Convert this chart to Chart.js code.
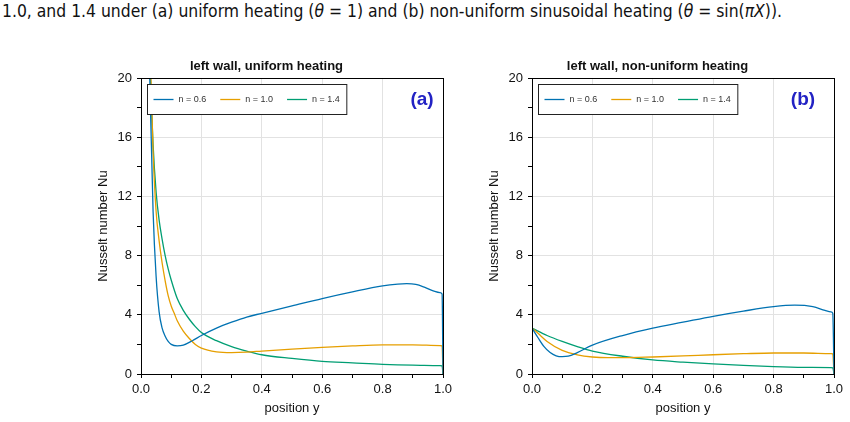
<!DOCTYPE html>
<html>
<head>
<meta charset="utf-8">
<script src="https://cdn.jsdelivr.net/npm/chart.js@4.4.1/dist/chart.umd.min.js"></script>
<style>
  body { margin: 0; background: #fff; width: 850px; height: 422px; overflow: hidden; position: relative; }
  #caption { position: absolute; left: 2px; top: 1px; font-family: "DejaVu Sans Condensed", "Liberation Sans Narrow", "Liberation Sans", sans-serif; font-size: 17px; color: #111; white-space: nowrap; transform-origin: 0 0; }
  .box { position: absolute; top: 55px; width: 370px; height: 365px; }
</style>
</head>
<body>
<div id="caption">1.0, and 1.4 under (a) uniform heating (<i>θ</i> = 1) and (b) non-uniform sinusoidal heating (<i>θ</i> = sin(<i>πX</i>)).</div>
<div class="box" style="left:90px"><canvas id="chartA"></canvas></div>
<div class="box" style="left:481px"><canvas id="chartB"></canvas></div>
<script>
// ---- datos ----
const seriesLabels = ['n = 0.6', 'n = 1.0', 'n = 1.4'];
const seriesColors = ['#0072B2', '#E69F00', '#009E73'];

// (a) calentamiento uniforme
const posA06 = [0.02, 0.03, 0.04, 0.05, 0.06, 0.07, 0.08, 0.09, 0.10, 0.12, 0.14, 0.17, 0.20, 0.25, 0.30, 0.35, 0.40, 0.50, 0.60, 0.70, 0.80, 0.85, 0.88, 0.91, 0.94, 0.97, 0.99, 0.997, 1.0];
const nuA06  = [30, 19, 11, 6.6, 4.2, 3.1, 2.55, 2.2, 2.0, 1.9, 1.95, 2.25, 2.6, 3.1, 3.5, 3.85, 4.1, 4.6, 5.1, 5.55, 5.95, 6.07, 6.1, 6.05, 5.85, 5.6, 5.5, 5.4, 0];
const posA10 = [0.02, 0.03, 0.04, 0.05, 0.06, 0.07, 0.08, 0.09, 0.10, 0.11, 0.12, 0.14, 0.16, 0.18, 0.20, 0.25, 0.30, 0.35, 0.40, 0.50, 0.60, 0.70, 0.80, 0.90, 0.99, 0.997, 1.0];
const nuA10  = [32, 22, 15, 11, 9, 7.5, 6.3, 5.3, 4.6, 4.1, 3.6, 2.9, 2.4, 2.0, 1.75, 1.5, 1.45, 1.48, 1.55, 1.68, 1.8, 1.9, 1.97, 1.97, 1.92, 1.9, 0];
const posA14 = [0.02, 0.03, 0.04, 0.05, 0.06, 0.07, 0.08, 0.09, 0.10, 0.12, 0.14, 0.16, 0.18, 0.20, 0.25, 0.30, 0.35, 0.40, 0.50, 0.60, 0.70, 0.80, 0.90, 0.99, 0.997, 1.0];
const nuA14  = [30, 21, 15.5, 12.3, 10.4, 9.1, 8.0, 7.1, 6.35, 5.1, 4.3, 3.7, 3.2, 2.8, 2.25, 1.85, 1.55, 1.3, 1.05, 0.85, 0.75, 0.65, 0.6, 0.57, 0.55, 0];

// (b) calentamiento sinusoidal
const posB06 = [0.0, 0.02, 0.04, 0.06, 0.08, 0.10, 0.12, 0.15, 0.20, 0.30, 0.40, 0.50, 0.60, 0.70, 0.80, 0.87, 0.93, 0.97, 0.99, 0.996, 1.0];
const nuB06  = [3.1, 2.45, 1.85, 1.45, 1.23, 1.17, 1.2, 1.45, 1.95, 2.6, 3.1, 3.5, 3.9, 4.25, 4.55, 4.65, 4.55, 4.3, 4.2, 4.1, 0];
const posB10 = [0.0, 0.02, 0.05, 0.10, 0.15, 0.20, 0.25, 0.30, 0.40, 0.50, 0.60, 0.70, 0.80, 0.90, 0.99, 0.996, 1.0];
const nuB10  = [3.1, 2.75, 2.2, 1.6, 1.3, 1.15, 1.1, 1.1, 1.15, 1.22, 1.3, 1.37, 1.42, 1.42, 1.38, 1.36, 0];
const posB14 = [0.0, 0.05, 0.10, 0.15, 0.20, 0.30, 0.40, 0.50, 0.60, 0.70, 0.80, 0.90, 0.99, 0.996, 1.0];
const nuB14  = [3.1, 2.6, 2.2, 1.85, 1.55, 1.2, 0.95, 0.8, 0.68, 0.58, 0.5, 0.45, 0.43, 0.42, 0];

// ticks
const yTickLabels = [0, 4, 8, 12, 16, 20];
const xTickLabels = [0.0, 0.2, 0.4, 0.6, 0.8, 1.0];

const FONT = '"Liberation Sans", Arial, sans-serif';

function toPoints(xs, ys) {
    return xs.map((x, i) => ({ x: x, y: ys[i] }));
}

// marco, leyenda dentro del area y etiqueta (a)/(b)
const framePlugin = {
    id: 'frame',
    afterDraw(chart, args, opts) {
        const ctx = chart.ctx;
        const a = chart.chartArea;
        ctx.save();
        ctx.strokeStyle = '#000';
        ctx.lineWidth = 1;
        ctx.strokeRect(Math.round(a.left) + 0.5, Math.round(a.top) + 0.5, Math.round(a.right - a.left), Math.round(a.bottom - a.top));

        // leyenda
        ctx.font = '9px ' + FONT;
        const bx = a.left + 6.5, by = a.top + 6.5;
        let x = bx + 6;
        const entries = [];
        chart.data.datasets.forEach(ds => {
            const w = ctx.measureText(ds.label).width;
            entries.push({ x: x, ds: ds });
            x += 20 + 5 + w + 14;
        });
        const bw = x - 14 + 7 - bx;
        const bh = 30;
        ctx.fillStyle = '#fff';
        ctx.fillRect(bx, by, bw, bh);
        ctx.strokeStyle = '#222';
        ctx.lineWidth = 1;
        ctx.strokeRect(bx, by, bw, bh);
        const cy = by + bh / 2;
        entries.forEach(e => {
            ctx.strokeStyle = e.ds.borderColor;
            ctx.lineWidth = 1.3;
            ctx.beginPath();
            ctx.moveTo(e.x, cy);
            ctx.lineTo(e.x + 20, cy);
            ctx.stroke();
            ctx.fillStyle = '#333';
            ctx.textBaseline = 'middle';
            ctx.textAlign = 'left';
            ctx.fillText(e.ds.label, e.x + 25, cy);
        });

        // etiqueta del panel
        ctx.font = 'bold 19px ' + FONT;
        ctx.fillStyle = '#2222c4';
        ctx.textAlign = 'center';
        ctx.textBaseline = 'middle';
        ctx.fillText(opts.tag, opts.tagX, a.top + 22);
        ctx.restore();
    }
};

function makeChart(canvasId, title, xsList, ysList, tag, tagX) {
    const datasets = seriesLabels.map((lab, i) => ({
        label: lab,
        data: toPoints(xsList[i], ysList[i]),
        borderColor: seriesColors[i],
        backgroundColor: seriesColors[i],
        borderWidth: 1.3,
        pointRadius: 0,
        cubicInterpolationMode: 'monotone',
        fill: false
    }));

    return new Chart(document.getElementById(canvasId).getContext('2d'), {
        type: 'line',
        data: { datasets: datasets },
        options: {
            responsive: true,
            maintainAspectRatio: false,
            animation: false,
            layout: { padding: { left: 0, right: 17, top: 0, bottom: 0 } },
            plugins: {
                legend: { display: false },
                tooltip: { enabled: false },
                title: {
                    display: true,
                    text: title,
                    color: '#111',
                    font: { family: FONT, size: 13, weight: 'bold' },
                    padding: { top: 4, bottom: 3.4 }
                },
                frame: { tag: tag, tagX: tagX }
            },
            scales: {
                x: {
                    type: 'linear',
                    min: 0, max: 1,
                    afterFit: s => { s.height = 46; },
                    afterBuildTicks: s => {
                        s.ticks = [];
                        for (let k = 0; k <= 10; k++) s.ticks.push({ value: k / 10 });
                    },
                    ticks: {
                        autoSkip: false,
                        maxRotation: 0,
                        padding: 4,
                        color: '#111',
                        font: { family: FONT, size: 13 },
                        callback: v => {
                            const k = Math.round(v * 10);
                            return xTickLabels.some(t => Math.round(t * 10) === k) ? (k / 10).toFixed(1) : '';
                        }
                    },
                    grid: {
                        tickLength: 4,
                        color: c => (c.tick && Math.round(c.tick.value * 10) % 2 === 0) ? '#e2e2e2' : 'rgba(0,0,0,0)',
                        tickColor: '#000'
                    },
                    border: { color: '#000', width: 1 },
                    title: {
                        display: true,
                        text: 'position y',
                        color: '#111',
                        font: { family: FONT, size: 13 },
                        padding: { top: 0, bottom: 4 }
                    }
                },
                y: {
                    type: 'linear',
                    min: 0, max: 20,
                    afterFit: s => { s.width = 51; },
                    afterBuildTicks: s => {
                        s.ticks = [];
                        for (let v = 0; v <= 20; v += 2) s.ticks.push({ value: v });
                    },
                    ticks: {
                        autoSkip: false,
                        padding: 5,
                        color: '#111',
                        font: { family: FONT, size: 13 },
                        callback: v => yTickLabels.includes(v) ? String(v) : ''
                    },
                    grid: {
                        tickLength: 4,
                        color: c => (c.tick && c.tick.value % 4 === 0) ? '#e2e2e2' : 'rgba(0,0,0,0)',
                        tickColor: '#000'
                    },
                    border: { color: '#000', width: 1 },
                    title: {
                        display: true,
                        text: 'Nusselt number Nu',
                        color: '#111',
                        font: { family: FONT, size: 13 },
                        padding: { top: 6, bottom: 0 }
                    }
                }
            }
        },
        plugins: [framePlugin]
    });
}

makeChart('chartA', 'left wall, uniform heating',
    [posA06, posA10, posA14], [nuA06, nuA10, nuA14], '(a)', 332);
makeChart('chartB', 'left wall, non-uniform heating',
    [posB06, posB10, posB14], [nuB06, nuB10, nuB14], '(b)', 322);

// ajustar ancho del pie de figura
const cap = document.getElementById('caption');
const w = cap.getBoundingClientRect().width;
cap.style.transform = 'scaleX(' + (780 / w) + ')';
</script>
</body>
</html>
